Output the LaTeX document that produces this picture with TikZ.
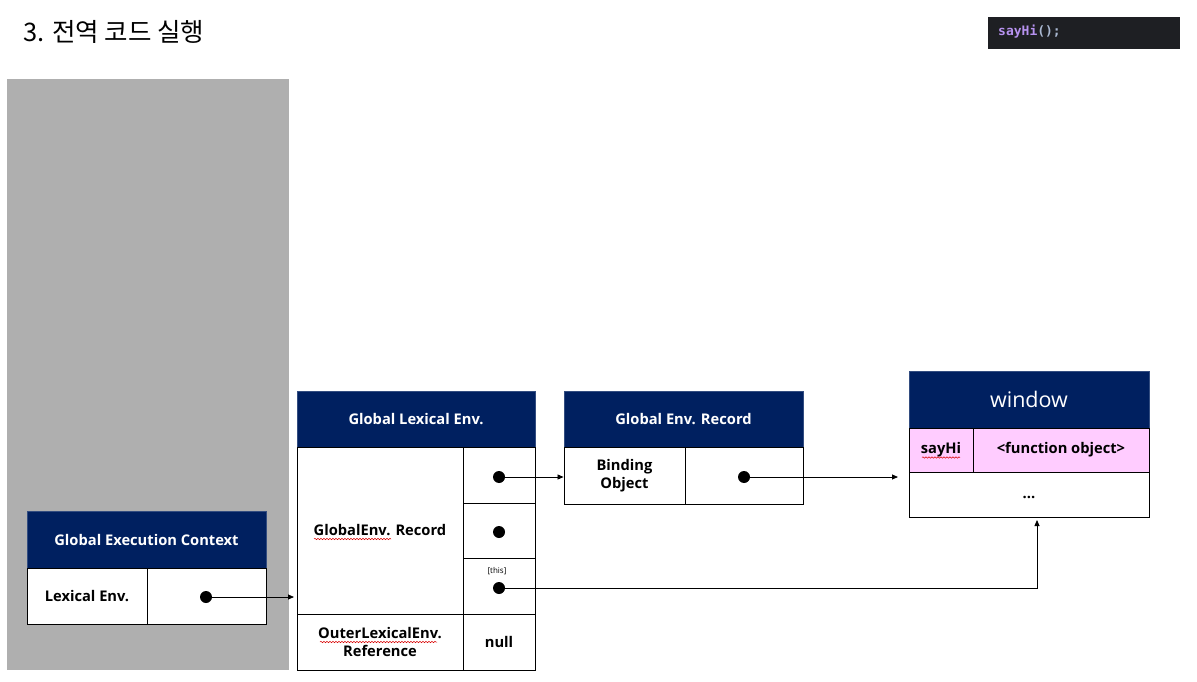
\documentclass[tikz,border=0pt]{standalone}
\usepackage{fontspec}
\setmainfont{Open Sans}
\newfontfamily\krfont{Noto Sans CJK KR}
\newfontfamily\codefont{DejaVu Sans Mono}
\usetikzlibrary{arrows.meta,decorations.pathmorphing}
\definecolor{navy}{HTML}{002060}
\definecolor{pinkcell}{HTML}{FFCCFF}
\definecolor{panelgray}{HTML}{AFAFAF}
\definecolor{codebg}{HTML}{1E1F23}
\definecolor{codefn}{HTML}{B792F0}
\definecolor{codepunct}{HTML}{A9B7D0}
\tikzset{
  head/.style={draw=navy!80!white, fill=navy, text=white, font=\bfseries\fontsize{14.7}{18}\selectfont,
    inner sep=0pt, align=center, line width=0.8pt},
  cell/.style={draw=black, fill=white, inner sep=0pt, align=center, line width=0.9pt,
    font=\bfseries\fontsize{14.7}{18}\selectfont},
  pinkc/.style={cell, fill=pinkcell},
  dot/.style={circle, fill=black, inner sep=0pt, minimum size=12pt},
  link/.style={line width=0.8pt, -{Triangle[length=6pt,width=5pt]}},
  squiggle/.style={draw=red!85!black, line width=0.5pt,
    decorate, decoration={snake, segment length=3pt, amplitude=0.7pt}},
}
\begin{document}
\begin{tikzpicture}[x=1pt,y=-1pt]
\useasboundingbox (0,0) rectangle (1197,682);
\fill[white] (0,0) rectangle (1197,682);

% title and code snippet
\node[anchor=west, inner sep=0pt, font=\krfont\fontsize{25.5}{28}\selectfont] (title) at (23,32) {3. 전역 코드 실행};
\node[fill=codebg, minimum width=192pt, minimum height=32pt, inner sep=0pt] (code) at (1084,33) {};
\node[anchor=west, inner sep=0pt, font=\codefont\bfseries\fontsize{13}{15}\selectfont] (codetext) at (998,32)
  {\textcolor{codefn}{sayHi}\textcolor{codepunct}{();}};

% call stack panel
\fill[panelgray] (7,79) rectangle (289,670);

% Global Execution Context
\node[head, minimum width=239pt, minimum height=57pt] (gec) at (146.5,539.5) {Global Execution Context};
\node[cell, minimum width=120pt, minimum height=56pt] (gec-le) at (87,596) {Lexical Env.};
\node[cell, minimum width=119pt, minimum height=56pt] (gec-ptr) at (206.5,596) {};
\node[dot] (d0) at (206,597) {};

% Global Lexical Environment
\node[head, minimum width=238pt, minimum height=56pt] (gle) at (416,419) {Global Lexical Env.};
\node[cell, minimum width=166pt, minimum height=167pt] (gle-rec) at (380,530.5) {GlobalEnv. Record};
\node[cell, minimum width=72pt, minimum height=56pt] (gle-r1) at (499,475) {};
\node[cell, minimum width=72pt, minimum height=55pt] (gle-r2) at (499,530.5) {};
\node[cell, minimum width=72pt, minimum height=56pt] (gle-r3) at (499,586) {};
\node[cell, minimum width=166pt, minimum height=56pt] (gle-outer) at (380,642) {OuterLexicalEnv.\\Reference};
\node[cell, minimum width=72pt, minimum height=56pt] (gle-null) at (499,642) {null};
\node[dot] (d1) at (499,477) {};
\node[dot] (d2) at (499,532) {};
\node[dot] (d3) at (499,588) {};
\node[inner sep=0pt, font=\fontsize{8}{9}\selectfont] (thislbl) at (497,571) {[this]};

% Global Environment Record
\node[head, minimum width=239pt, minimum height=56pt] (ger) at (683.5,419) {Global Env. Record};
\node[cell, minimum width=121pt, minimum height=57pt] (ger-bind) at (624.5,475.5) {Binding\\Object};
\node[cell, minimum width=118pt, minimum height=57pt] (ger-val) at (744,475.5) {};
\node[dot] (d4) at (744,477) {};

% window object
\node[head, font=\fontsize{21.5}{24}\selectfont, minimum width=240pt, minimum height=57pt] (win) at (1029,399.5) {window};
\node[pinkc, minimum width=64pt, minimum height=44pt] (win-name) at (941,450) {sayHi};
\node[pinkc, minimum width=176pt, minimum height=44pt] (win-fn) at (1061,450) {<function object>};
\node[cell, minimum width=240pt, minimum height=45pt] (win-rest) at (1029,494.5) {};
\node[inner sep=0pt, font=\bfseries\fontsize{14.7}{18}\selectfont, anchor=base] (win-more) at (1029,498) {...};

% spell-check marks
\draw[squiggle] (314,539) -- (391,539);
\draw[squiggle] (320,642) -- (437,642);
\draw[squiggle] (922,457.5) -- (960,457.5);

% references
\coordinate (gle-in) at (294,597);
\coordinate (win-in) at (898,477);
\coordinate (bend) at (1037,588);
\coordinate (win-up) at (1037,520);
\draw[link] (d0.center) -- (gle-in);
\draw[link] (d1.center) -- (ger-bind.west |- d1);
\draw[link] (d4.center) -- (win-in);
\draw[link] (d3.center) -- (bend) -- (win-up);
\end{tikzpicture}
\end{document}
